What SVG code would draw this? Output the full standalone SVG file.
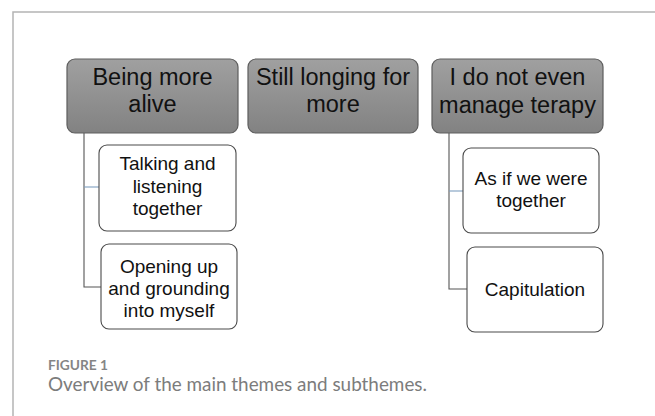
<svg xmlns="http://www.w3.org/2000/svg" width="655" height="416" viewBox="0 0 655 416">
  <style>
    .frame { fill: none; stroke: #b4b4b4; stroke-width: 1.5; }
    .theme rect { fill: url(#themeFill); stroke: #5e5e5e; stroke-width: 1.2; }
    .sub rect { fill: #ffffff; stroke: #4a4a4a; stroke-width: 1.1; }
    .theme text { font-family: "Liberation Sans", Arial, sans-serif; font-size: 23.5px; fill: #111; text-anchor: middle; }
    .sub text { font-family: "Liberation Sans", Arial, sans-serif; font-size: 19px; fill: #111; text-anchor: middle; }
    .link { fill: none; stroke: #555; stroke-width: 1.1; }
    .link-accent { fill: none; stroke: #7f9fbf; stroke-width: 1.1; }
    .cap-label { font-family: "Lato", "Liberation Sans", sans-serif; font-weight: bold; font-size: 13.5px; fill: #858585; }
    .cap-text { font-family: "Lato", "Liberation Sans", sans-serif; font-size: 19px; fill: #7c7c7c; }
  </style>
  <defs>
    <linearGradient id="themeFill" x1="0" y1="0" x2="0" y2="1">
      <stop offset="0" stop-color="#a0a0a0"/>
      <stop offset="1" stop-color="#828282"/>
    </linearGradient>
  </defs>

  <rect width="655" height="416" fill="#ffffff"/>
  <!-- figure frame: top and left rule -->
  <path class="frame" d="M13,416 V12 H655"/>

  <!-- connectors -->
  <g id="connectors">
    <path class="link" d="M84,133 V287 H101"/>
    <path class="link-accent" d="M84,187 H99"/>
    <path class="link" d="M449,133 V289 H467"/>
    <path class="link-accent" d="M449,191 H463"/>
  </g>

  <!-- main themes -->
  <g id="theme-alive" class="theme">
    <rect x="67" y="59" width="171" height="74" rx="8"/>
    <text x="152.5" y="85">Being more</text>
    <text x="152.5" y="112">alive</text>
  </g>
  <g id="theme-longing" class="theme">
    <rect x="248" y="59" width="170" height="74" rx="8"/>
    <text x="333" y="85">Still longing for</text>
    <text x="333" y="112">more</text>
  </g>
  <g id="theme-therapy" class="theme">
    <rect x="432" y="59" width="171" height="74" rx="8"/>
    <text x="517.5" y="85">I do not even</text>
    <text x="517.5" y="113">manage terapy</text>
  </g>

  <!-- subthemes -->
  <g id="sub-talking" class="sub">
    <rect x="99" y="145" width="137" height="86" rx="8"/>
    <text x="167.5" y="170">Talking and</text>
    <text x="167.5" y="193">listening</text>
    <text x="167.5" y="215">together</text>
  </g>
  <g id="sub-opening" class="sub">
    <rect x="101" y="244" width="136" height="85" rx="8"/>
    <text x="169" y="273">Opening up</text>
    <text x="169" y="295">and grounding</text>
    <text x="169" y="317">into myself</text>
  </g>
  <g id="sub-together" class="sub">
    <rect x="463" y="148" width="136" height="85" rx="8"/>
    <text x="531" y="185">As if we were</text>
    <text x="531" y="207">together</text>
  </g>
  <g id="sub-capitulation" class="sub">
    <rect x="467" y="247" width="136" height="85" rx="8"/>
    <text x="535" y="296">Capitulation</text>
  </g>

  <!-- caption -->
  <text class="cap-label" x="48" y="370" textLength="60" lengthAdjust="spacingAndGlyphs">FIGURE 1</text>
  <text class="cap-text" x="48" y="391" textLength="379" lengthAdjust="spacingAndGlyphs">Overview of the main themes and subthemes.</text>
</svg>
